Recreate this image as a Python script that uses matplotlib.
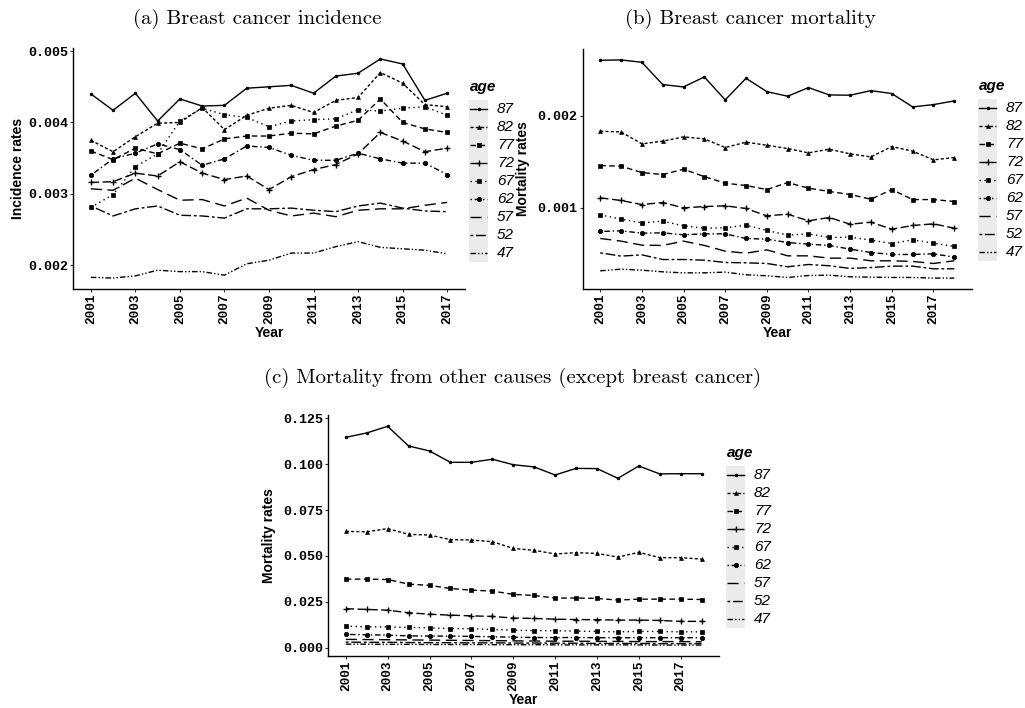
import matplotlib
matplotlib.use("Agg")
import matplotlib.pyplot as plt
from matplotlib.lines import Line2D
from matplotlib.patches import Rectangle
from matplotlib.ticker import FormatStrFormatter
from matplotlib.font_manager import FontProperties
import numpy as np

ages = ["87", "82", "77", "72", "67", "62", "57", "52", "47"]
years_a = list(range(2001, 2018))
years_bc = list(range(2001, 2019))

# (a) Breast cancer incidence
inc_87 = [0.00440, 0.00417, 0.00441, 0.00402, 0.00433, 0.00423, 0.00424, 0.00448, 0.00450, 0.00452, 0.00441, 0.00465, 0.00469, 0.00489, 0.00482, 0.00431, 0.00441]
inc_82 = [0.00375, 0.00359, 0.00380, 0.00399, 0.00400, 0.00421, 0.00390, 0.00410, 0.00420, 0.00424, 0.00414, 0.00431, 0.00435, 0.00470, 0.00455, 0.00425, 0.00422]
inc_77 = [0.00360, 0.00348, 0.00364, 0.00356, 0.00371, 0.00363, 0.00377, 0.00381, 0.00381, 0.00385, 0.00384, 0.00395, 0.00403, 0.00433, 0.00400, 0.00391, 0.00386]
inc_72 = [0.00316, 0.00317, 0.00329, 0.00325, 0.00345, 0.00329, 0.00320, 0.00325, 0.00306, 0.00324, 0.00334, 0.00341, 0.00356, 0.00386, 0.00374, 0.00359, 0.00364]
inc_67 = [0.00281, 0.00299, 0.00338, 0.00356, 0.00402, 0.00420, 0.00411, 0.00407, 0.00394, 0.00402, 0.00404, 0.00405, 0.00418, 0.00416, 0.00420, 0.00422, 0.00410]
inc_62 = [0.00326, 0.00349, 0.00357, 0.00370, 0.00362, 0.00340, 0.00349, 0.00367, 0.00365, 0.00354, 0.00347, 0.00347, 0.00357, 0.00349, 0.00343, 0.00343, 0.00327]
inc_57 = [0.00307, 0.00305, 0.00322, 0.00306, 0.00291, 0.00292, 0.00283, 0.00294, 0.00277, 0.00269, 0.00273, 0.00268, 0.00277, 0.00279, 0.00279, 0.00284, 0.00288]
inc_52 = [0.00283, 0.00269, 0.00279, 0.00283, 0.00270, 0.00269, 0.00266, 0.00279, 0.00279, 0.00280, 0.00277, 0.00275, 0.00283, 0.00287, 0.00280, 0.00276, 0.00275]
inc_47 = [0.00183, 0.00182, 0.00185, 0.00193, 0.00191, 0.00191, 0.00186, 0.00202, 0.00207, 0.00217, 0.00217, 0.00226, 0.00233, 0.00225, 0.00223, 0.00221, 0.00216]

# (b) Breast cancer mortality
bcm_87 = [0.002605, 0.002609, 0.002583, 0.002341, 0.002315, 0.002424, 0.002174, 0.002409, 0.002264, 0.002214, 0.002308, 0.002228, 0.002225, 0.002275, 0.002243, 0.002098, 0.002123, 0.002163]
bcm_82 = [0.001833, 0.001826, 0.001696, 0.001725, 0.001772, 0.001750, 0.001656, 0.001714, 0.001681, 0.001645, 0.001598, 0.001638, 0.001587, 0.001554, 0.001667, 0.001616, 0.001522, 0.001547]
bcm_77 = [0.001460, 0.001453, 0.001384, 0.001362, 0.001420, 0.001340, 0.001268, 0.001243, 0.001199, 0.001275, 0.001214, 0.001178, 0.001145, 0.001094, 0.001199, 0.001090, 0.001090, 0.001069]
bcm_72 = [0.001109, 0.001080, 0.001036, 0.001058, 0.001000, 0.001014, 0.001022, 0.000993, 0.000913, 0.000931, 0.000859, 0.000895, 0.000822, 0.000844, 0.000768, 0.000808, 0.000826, 0.000779]
bcm_67 = [0.000924, 0.000877, 0.000837, 0.000855, 0.000804, 0.000779, 0.000783, 0.000812, 0.000754, 0.000703, 0.000717, 0.000678, 0.000681, 0.000649, 0.000612, 0.000652, 0.000616, 0.000580]
bcm_62 = [0.000743, 0.000750, 0.000725, 0.000728, 0.000707, 0.000717, 0.000717, 0.000667, 0.000659, 0.000623, 0.000605, 0.000591, 0.000551, 0.000514, 0.000493, 0.000493, 0.000500, 0.000464]
bcm_57 = [0.000667, 0.000638, 0.000594, 0.000591, 0.000638, 0.000591, 0.000529, 0.000507, 0.000543, 0.000478, 0.000478, 0.000453, 0.000453, 0.000424, 0.000424, 0.000417, 0.000395, 0.000424]
bcm_52 = [0.000511, 0.000475, 0.000489, 0.000438, 0.000438, 0.000431, 0.000406, 0.000402, 0.000395, 0.000359, 0.000384, 0.000370, 0.000341, 0.000351, 0.000366, 0.000366, 0.000337, 0.000337]
bcm_47 = [0.000315, 0.000333, 0.000322, 0.000304, 0.000293, 0.000293, 0.000301, 0.000272, 0.000261, 0.000243, 0.000264, 0.000268, 0.000250, 0.000246, 0.000243, 0.000243, 0.000236, 0.000236]

# (c) Mortality from other causes
oth_87 = [0.1146, 0.1170, 0.1206, 0.1099, 0.1072, 0.1010, 0.1010, 0.1027, 0.0997, 0.0985, 0.0941, 0.0977, 0.0976, 0.0923, 0.0990, 0.0947, 0.0948, 0.0948]
oth_82 = [0.0634, 0.0632, 0.0649, 0.0618, 0.0614, 0.0589, 0.0587, 0.0578, 0.0541, 0.0531, 0.0511, 0.0518, 0.0514, 0.0494, 0.0520, 0.0491, 0.0491, 0.0483]
oth_77 = [0.0374, 0.0374, 0.0372, 0.0347, 0.0340, 0.0323, 0.0314, 0.0309, 0.0291, 0.0285, 0.0271, 0.0271, 0.0269, 0.0260, 0.0265, 0.0265, 0.0265, 0.0263]
oth_72 = [0.0213, 0.0209, 0.0205, 0.0191, 0.0183, 0.0178, 0.0174, 0.0171, 0.0162, 0.0160, 0.0156, 0.0154, 0.0153, 0.0151, 0.0151, 0.0149, 0.0144, 0.0144]
oth_67 = [0.0118, 0.0114, 0.0114, 0.0111, 0.0109, 0.0105, 0.0104, 0.0100, 0.0096, 0.0094, 0.0093, 0.0091, 0.0089, 0.0087, 0.0089, 0.0089, 0.0087, 0.0087]
oth_62 = [0.0073, 0.0071, 0.0069, 0.0065, 0.0064, 0.0064, 0.0062, 0.0060, 0.0058, 0.0056, 0.0056, 0.0056, 0.0055, 0.0055, 0.0055, 0.0055, 0.0055, 0.0055]
oth_57 = [0.0046, 0.0045, 0.0044, 0.0043, 0.0042, 0.0041, 0.0040, 0.0039, 0.0038, 0.0037, 0.0036, 0.0036, 0.0035, 0.0035, 0.0034, 0.0034, 0.0034, 0.0033]
oth_52 = [0.0031, 0.0030, 0.0030, 0.0029, 0.0028, 0.0028, 0.0027, 0.0027, 0.0026, 0.0026, 0.0025, 0.0025, 0.0024, 0.0024, 0.0024, 0.0023, 0.0023, 0.0023]
oth_47 = [0.0020, 0.0020, 0.0019, 0.0019, 0.0018, 0.0018, 0.0018, 0.0017, 0.0017, 0.0017, 0.0016, 0.0016, 0.0016, 0.0016, 0.0016, 0.0015, 0.0015, 0.0015]

incidence = [inc_87, inc_82, inc_77, inc_72, inc_67, inc_62, inc_57, inc_52, inc_47]
bc_mort = [bcm_87, bcm_82, bcm_77, bcm_72, bcm_67, bcm_62, bcm_57, bcm_52, bcm_47]
oth_mort = [oth_87, oth_82, oth_77, oth_72, oth_67, oth_62, oth_57, oth_52, oth_47]

# styles per age
dash_styles = ["-", (0, (2.2, 1.6)), (0, (4, 2.5)), (0, (6, 2.5)), (0, (1, 2.5)),
               (0, (1, 2, 4, 2)), (0, (8, 4)), (0, (2, 2, 7, 2)), (0, (4, 1.5, 1, 1.5, 1, 1.5))]
markers = [".", "^", "s", "+", "s", "o", None, None, None]
msizes = [4, 2.8, 2.8, 5, 3.2, 3.2, 0, 0, 0]

W, H = 1025, 708
fig = plt.figure(figsize=(W / 100, H / 100), dpi=100)

def box(l, t, r, b):
    return [l / W, 1 - b / H, (r - l) / W, (b - t) / H]

xtick_fp = FontProperties(family="Liberation Mono", weight="bold", size=9.2)
ytick_fp = FontProperties(family="Liberation Mono", weight="bold", size=9.6)
lab_font = dict(family="Liberation Sans", weight="bold", size=10)

def draw_panel(rect, years, series, yticks, ylabel, ylab_x, title, title_xy, leg_x, leg_y0):
    ax = fig.add_axes(box(*rect))
    for vals, ls, mk, ms in zip(series, dash_styles, markers, msizes):
        ax.plot(years, vals, color="black", lw=1.0, linestyle=ls,
                marker=mk if mk else "None", markersize=ms,
                markeredgewidth=1.0 if mk == "+" else 0.5)
    allv = np.concatenate([np.asarray(s) for s in series])
    lo, hi = allv.min(), allv.max()
    pad = (hi - lo) * 0.05
    ax.set_ylim(lo - pad, hi + pad)
    xpad = (years[-1] - years[0]) * 0.05
    ax.set_xlim(years[0] - xpad, years[-1] + xpad)
    ax.set_xticks(list(range(2001, 2018, 2)))
    ax.set_yticks(yticks)
    ax.yaxis.set_major_formatter(FormatStrFormatter("%.3f"))
    for sp in ["top", "right"]:
        ax.spines[sp].set_visible(False)
    for sp in ["left", "bottom"]:
        ax.spines[sp].set_linewidth(1.0)
        ax.spines[sp].set_color("black")
    ax.tick_params(axis="both", length=2, width=0.8, pad=1.5, color="#333333")
    for lbl in ax.get_xticklabels():
        lbl.set_fontproperties(xtick_fp)
        lbl.set_rotation(90)
    for lbl in ax.get_yticklabels():
        lbl.set_fontproperties(ytick_fp)
    ax.set_xlabel("Year", **lab_font)
    ax.set_ylabel(ylabel, **lab_font)
    l, t, r, b = rect
    ax.yaxis.set_label_coords((ylab_x - l) / (r - l), 0.5)
    ax.xaxis.set_label_coords(0.5, -(37) / (b - t))
    fig.text(title_xy[0] / W, 1 - title_xy[1] / H, title, family="cmr10", size=15,
             ha="center", va="center")
    # legend
    fig.text((leg_x) / W, 1 - (leg_y0 - 22) / H, "age", family="Liberation Sans",
             weight="bold", style="italic", size=11, ha="left", va="center")
    step = 18
    fig.patches.append(Rectangle(((leg_x - 1) / W, 1 - (leg_y0 - 9 + 9 * step) / H),
                                 19 / W, (9 * step) / H, transform=fig.transFigure,
                                 facecolor="#EBEBEB", edgecolor="none", zorder=0))
    for i, (age, ls, mk, ms) in enumerate(zip(ages, dash_styles, markers, msizes)):
        y = 1 - (leg_y0 + i * step) / H
        fig.lines.append(Line2D([(leg_x) / W, (leg_x + 17) / W], [y, y], transform=fig.transFigure,
                                color="black", lw=1.0, linestyle=ls))
        if mk:
            fig.lines.append(Line2D([(leg_x + 8.5) / W], [y], transform=fig.transFigure,
                                    color="black", marker=mk, markersize=ms, linestyle="None",
                                    markeredgewidth=1.0 if mk == "+" else 0.5))
        fig.text((leg_x + 27) / W, y, age, family="Liberation Sans", style="italic", size=11,
                 ha="left", va="center")
    return ax

draw_panel((73, 48, 465, 289), years_a, incidence, [0.002, 0.003, 0.004, 0.005],
           "Incidence rates", 25, "(a) Breast cancer incidence", (257, 19), 470, 109)
draw_panel((582.5, 49, 972, 289), years_bc, bc_mort, [0.001, 0.002],
           "Mortality rates", 530, "(b) Breast cancer mortality", (750, 19), 979, 108)
draw_panel((328, 415.4, 719.4, 656), years_bc, oth_mort, [0.0, 0.025, 0.05, 0.075, 0.1, 0.125],
           "Mortality rates", 276, "(c) Mortality from other causes (except breast cancer)",
           (513, 378), 727, 475)

fig.savefig("out.png", dpi=100, facecolor="white")
